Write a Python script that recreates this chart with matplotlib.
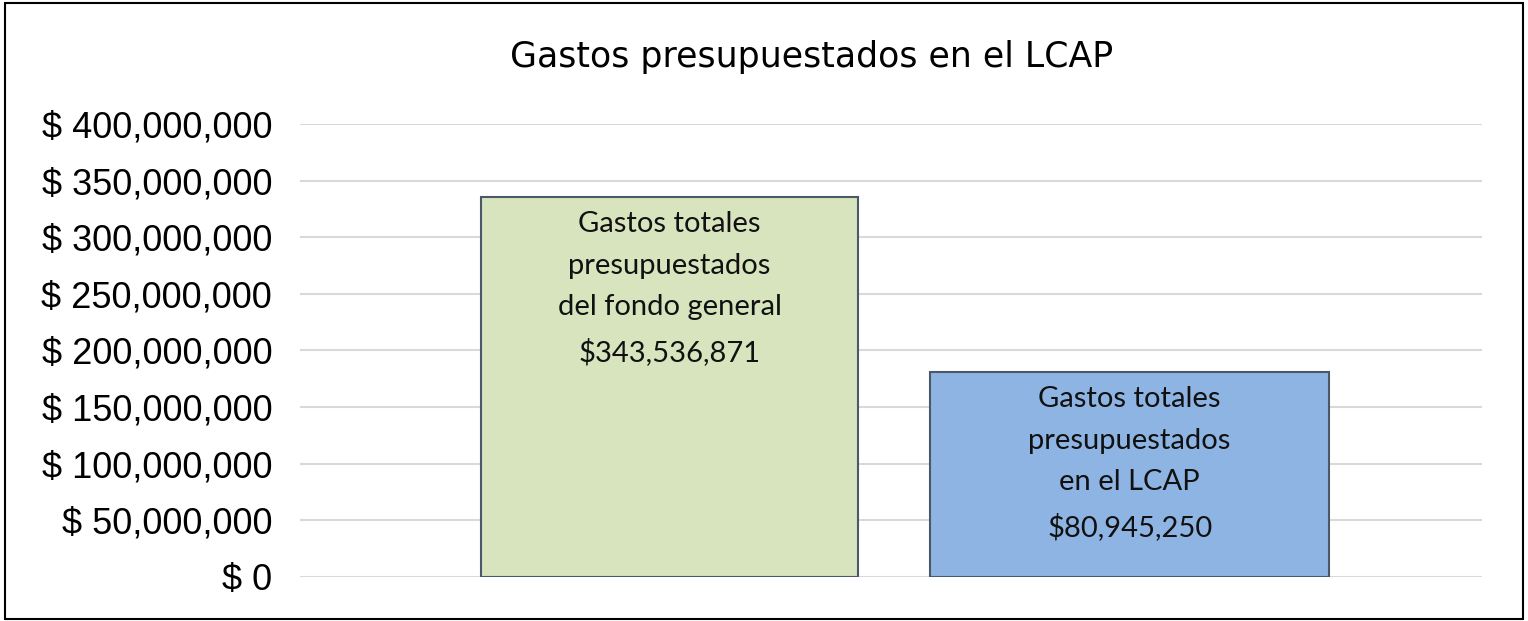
import matplotlib.pyplot as plt
from matplotlib.patches import Rectangle
from matplotlib.ticker import FuncFormatter

# Data
categories = ['Fondo general', 'LCAP']
bar_heights = [335_500_000, 181_000_000]      # drawn bar heights
label_values = [343_536_871, 80_945_250]      # amounts printed inside the bars
label_texts = ['Gastos totales\npresupuestados\ndel fondo general',
               'Gastos totales\npresupuestados\nen el LCAP']
y_ticks = [0, 50_000_000, 100_000_000, 150_000_000, 200_000_000,
           250_000_000, 300_000_000, 350_000_000, 400_000_000]

bar_colors = ['#D7E4BD', '#8EB4E3']
bar_widths = [0.82, 0.867]

fig = plt.figure(figsize=(15.28, 6.21), dpi=100)
ax = fig.add_axes([0.1963, 0.0709, 0.7737, 0.7294])

x = [0, 1]
ax.bar(x, bar_heights, width=bar_widths, color=bar_colors,
       edgecolor='#4A5868', linewidth=1.5, zorder=3)

ax.set_xlim(-0.803, 1.766)
ax.set_ylim(0, 400_000_000)
ax.set_yticks(y_ticks)
ax.yaxis.set_major_formatter(FuncFormatter(lambda v, p: f'$ {int(v):,}'))
ax.tick_params(axis='y', length=0, pad=20, labelsize=26)
for lbl in ax.get_yticklabels():
    lbl.set_fontfamily('Liberation Sans')
ax.set_xticks([])
ax.grid(axis='y', color='#D9D9D9', linewidth=1.5, zorder=0)
for s in ax.spines.values():
    s.set_visible(False)

# Labels inside the bars
for xi, h, txt, val in zip(x, bar_heights, label_texts, label_values):
    ax.annotate(f'{txt}\n${val:,}', xy=(xi, h), xytext=(0, -10),
                textcoords='offset points', ha='center', va='top',
                fontsize=21, family='Lato', linespacing=1.75,
                color='#111111', zorder=4)

fig.text(0.531, 0.908, 'Gastos presupuestados en el LCAP',
         ha='center', va='center', fontsize=25, family='DejaVu Sans')

# outer frame
fig.patches.append(Rectangle((0.003, 0.004), 0.994, 0.991, transform=fig.transFigure,
                             fill=False, edgecolor='black', linewidth=1.5))

fig.savefig('out.png', dpi=100)
